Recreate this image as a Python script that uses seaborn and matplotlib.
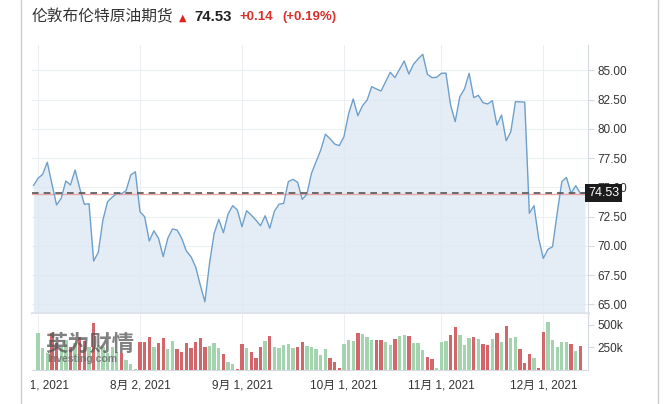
'''
Brent crude futures: daily close with shaded area and volume bars underneath.
'''
import numpy as np
import pandas as pd

import matplotlib
matplotlib.use('agg')

import matplotlib.pyplot as plt
from matplotlib.lines import Line2D
from matplotlib.transforms import Bbox, TransformedBbox

import seaborn as sns

# daily close, one value per trading day from 2021-06-30
price = [
    75.14, 75.77, 76.11, 77.14, 75.28, 73.49, 74.06, 75.54, 75.20, 76.48,
    74.91, 73.55, 73.60, 68.70, 69.44, 72.20, 73.77, 74.15, 74.49, 74.46,
    74.71, 76.05, 76.33, 72.91, 72.49, 70.41, 71.29, 70.64, 69.07, 70.64,
    71.44, 71.35, 70.64, 69.56, 69.07, 68.21, 66.65, 65.22, 68.50, 71.07,
    72.26, 71.12, 72.72, 73.43, 73.06, 71.63, 73.00, 72.63, 72.20, 71.72,
    72.57, 71.50, 72.97, 73.55, 73.63, 75.48, 75.68, 75.43, 73.97, 74.40,
    76.20, 77.19, 78.19, 79.53, 79.15, 78.70, 78.56, 79.33, 81.27, 82.55,
    81.12, 81.97, 82.46, 83.60, 83.40, 83.23, 84.03, 84.83, 84.37, 85.09,
    85.79, 84.68, 85.51, 85.97, 86.37, 84.66, 84.37, 84.40, 84.74, 84.76,
    82.03, 80.61, 82.74, 83.40, 84.74, 82.66, 82.86, 82.23, 82.12, 82.40,
    80.32, 81.18, 78.98, 79.75, 82.32, 82.30, 82.28, 72.78, 73.43, 70.64,
    68.93, 69.70, 69.92, 72.78, 75.48, 75.85, 74.49, 75.14, 74.49, 74.53,
]

# daily volume in thousands
volume_k = [
    0, 407, 241, 185, 407, 300, 250, 330, 260, 300,
    370, 320, 260, 519, 280, 260, 185, 259, 200, 185,
    111, 70, 7, 307, 307, 370, 259, 296, 352, 230,
    326, 230, 196, 296, 241, 315, 352, 252, 270, 296,
    241, 174, 85, 63, 7, 285, 245, 204, 130, 252,
    326, 378, 252, 241, 278, 285, 241, 252, 315, 267,
    252, 230, 167, 230, 130, 93, 19, 285, 330, 320,
    407, 396, 363, 333, 333, 333, 315, 278, 344, 378,
    389, 378, 296, 296, 222, 148, 119, 19, 307, 322,
    389, 474, 389, 278, 352, 363, 341, 289, 278, 341,
    407, 307, 489, 352, 363, 230, 81, 178, 130, 19,
    419, 530, 333, 252, 315, 315, 285, 215, 267, 0,
]

tick_dates = ['2021-07-01', '2021-08-02', '2021-09-01', '2021-10-01', '2021-11-01', '2021-12-01']
tick_labels = ['7月 1, 2021', '8月 2, 2021', '9月 1, 2021', '10月 1, 2021', '11月 1, 2021', '12月 1, 2021']
price_ticks = [65.0, 67.5, 70.0, 72.5, 75.0, 77.5, 80.0, 82.5, 85.0]
volume_ticks = [250000, 500000]
volume_tick_labels = ['250k', '500k']

last_price = 74.53
prev_close = 74.39
title = '伦敦布伦特原油期货'
last_text = '74.53'
change_text = '+0.14'
pct_text = '(+0.19%)'

dates = pd.bdate_range('2021-06-30', periods=len(price))
df = pd.DataFrame({'idx': np.arange(len(price)), 'price': price,
                   'volume': np.array(volume_k) * 1000})
df['dir'] = np.where(df['price'].diff().fillna(1) >= 0, 'up', 'down')
tick_pos = [dates.get_loc(pd.Timestamp(d)) for d in tick_dates]

sns.set_theme(style='white')
plt.rcParams['font.family'] = ['Liberation Sans', 'Noto Sans CJK SC', 'DejaVu Sans']

W, H = 672, 404


def fx(x):
    return x / W


def fy(y):
    return 1 - y / H


fig = plt.figure(figsize=(W / 100, H / 100), dpi=100)
ax = fig.add_axes([fx(32), fy(313), (588 - 32) / W, (313 - 45) / H])
ax_vol = fig.add_axes([fx(32), fy(370), (588 - 32) / W, (370 - 314) / H])

xlim = (-0.3, len(price) - 1 + 0.65)
grid_col = '#eceff2'
axis_col = '#d3d9df'

# price panel
ax.fill_between(df['idx'], df['price'], 64.26, color='#dbe7f2', alpha=0.75, lw=0, zorder=1)
sns.lineplot(data=df, x='idx', y='price', color='#6e9fcb', lw=1.0, ax=ax, zorder=3)
ax.axhline(prev_close, color='#eaa5a5', lw=1.0, zorder=2)
ax.axhline(last_price, color='#555555', lw=1.2, ls=(0, (4, 3)), zorder=4)
ax.set_xlim(*xlim)
ax.set_ylim(64.26, 87.16)
ax.set_xticks(tick_pos)
ax.set_xticklabels([])
ax.set_yticks(price_ticks)
ax.set_yticklabels([f'{v:.2f}' for v in price_ticks])
ax.yaxis.tick_right()
ax.tick_params(axis='y', length=4, width=0.8, color=axis_col, labelcolor='#333333',
               labelsize=8.5, pad=3)
ax.tick_params(axis='x', length=0)
ax.grid(True, color=grid_col, lw=0.8)
ax.set_axisbelow(True)
ax.set_xlabel('')
ax.set_ylabel('')
for s in ['top', 'left']:
    ax.spines[s].set_visible(False)
ax.spines['right'].set_color(axis_col)
ax.spines['right'].set_linewidth(0.8)
ax.spines['bottom'].set_color('#dde4ec')
ax.spines['bottom'].set_linewidth(2)

ax.text(1.0, last_price, last_text, transform=ax.get_yaxis_transform(),
        ha='left', va='center', color='white', fontsize=9, zorder=10,
        bbox=dict(boxstyle='square,pad=0.25', fc='#1c1c1c', ec='none'))

# volume panel
sns.barplot(data=df, x='idx', y='volume', hue='dir',
            palette={'up': '#a4d3b0', 'down': '#d2666b'}, dodge=False,
            width=0.72, saturation=1, errorbar=None, legend=False, linewidth=0,
            ax=ax_vol, zorder=3)
ax_vol.set_xlim(*xlim)
ax_vol.set_ylim(0, 622000)
ax_vol.set_xticks(tick_pos)
ax_vol.set_xticklabels(tick_labels)
ax_vol.set_yticks(volume_ticks)
ax_vol.set_yticklabels(volume_tick_labels)
ax_vol.yaxis.tick_right()
ax_vol.tick_params(axis='y', length=4, width=0.8, color=axis_col, labelcolor='#333333',
                   labelsize=8.5, pad=3)
ax_vol.tick_params(axis='x', length=4, width=0.8, color=axis_col, labelcolor='#333333',
                   labelsize=8.5, pad=3)
ax_vol.grid(True, axis='x', color=grid_col, lw=0.8)
ax_vol.grid(False, axis='y')
ax_vol.set_axisbelow(True)
ax_vol.set_xlabel('')
ax_vol.set_ylabel('')
for s in ['top', 'left']:
    ax_vol.spines[s].set_visible(False)
for s in ['right', 'bottom']:
    ax_vol.spines[s].set_color(axis_col)
    ax_vol.spines[s].set_linewidth(0.8)

# first date label is cut off by the page edge
clip = TransformedBbox(Bbox([[fx(31), 0], [1, 1]]), fig.transFigure)
first = ax_vol.get_xticklabels()[0]
first.set_clip_on(True)
first.set_clip_box(clip)

# watermark
fig.text(fx(45), fy(344), '英为财情', fontsize=16, fontweight='bold', color='#555555',
         alpha=0.75, va='center', ha='left', family=['Noto Sans CJK SC', 'DejaVu Sans'])
fig.text(fx(47), fy(359), 'Investing.com', fontsize=7.5, fontweight='bold', color='#666666',
         alpha=0.8, va='center', ha='left')

# header
fig.text(fx(32), fy(17), title, fontsize=11.3, color='#333333', va='center', ha='left',
         family=['Noto Sans CJK SC', 'DejaVu Sans'])
fig.text(fx(179), fy(18), '▲', fontsize=7, color='#e0201c', va='center', ha='left',
         family=['DejaVu Sans'])
fig.text(fx(194), fy(17), last_text, fontsize=10.8, fontweight='bold', color='#222222',
         va='center', ha='left')
fig.text(fx(240), fy(17), change_text, fontsize=9.5, fontweight='bold', color='#d9312b',
         va='center', ha='left')
fig.text(fx(282), fy(17), pct_text, fontsize=9.5, fontweight='bold', color='#d9312b',
         va='center', ha='left')

# page borders
for x in [20.5, 657.5]:
    fig.add_artist(Line2D([fx(x), fx(x)], [0, 1], transform=fig.transFigure,
                          color='#cccccc', lw=1))

fig.savefig('out.png', dpi=100)
plt.close(fig)
